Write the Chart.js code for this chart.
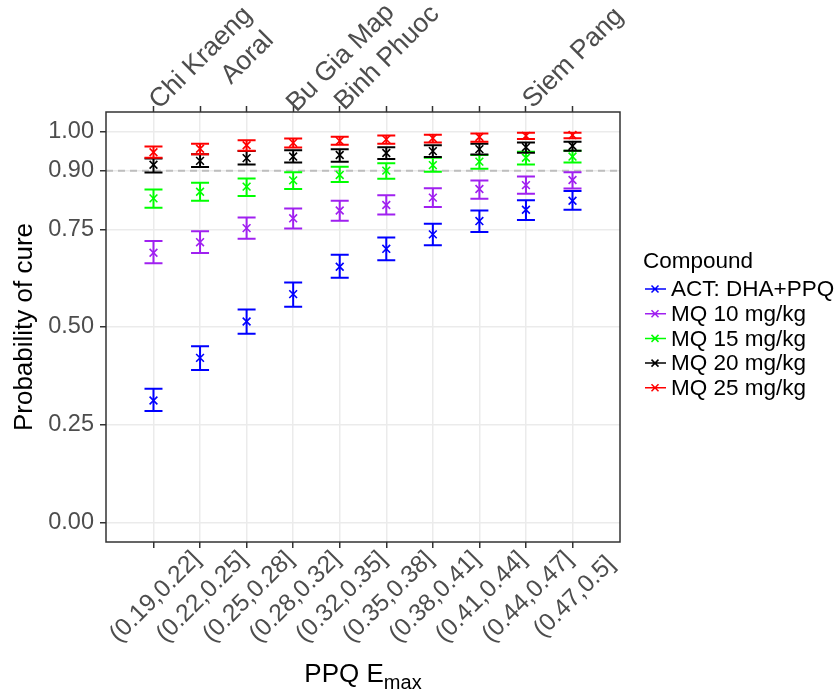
<!DOCTYPE html>
<html>
<head>
<meta charset="utf-8">
<script src="https://cdn.jsdelivr.net/npm/chart.js@4.4.0/dist/chart.umd.min.js"></script>
<style>
  html, body { margin: 0; padding: 0; background: #fff; }
</style>
</head>
<body>
<canvas id="myChart" width="840" height="696"></canvas>
<script>
const bins = ['(0.19,0.22]', '(0.22,0.25]', '(0.25,0.28]', '(0.28,0.32]', '(0.32,0.35]',
              '(0.35,0.38]', '(0.38,0.41]', '(0.41,0.44]', '(0.44,0.47]', '(0.47,0.5]'];
const sites = ['', 'Chi Kraeng', 'Aoral', '', 'Bu Gia Map', 'Binh Phuoc', '', '', '', 'Siem Pang'];
const yTicks = [0, 0.25, 0.5, 0.75, 0.9, 1];
const compounds = ['ACT: DHA+PPQ', 'MQ 10 mg/kg', 'MQ 15 mg/kg', 'MQ 20 mg/kg', 'MQ 25 mg/kg'];
const colors = ['#0000ff', '#a020f0', '#00ff00', '#000000', '#ff0000'];

const actMean = [0.312, 0.421, 0.514, 0.584, 0.654, 0.700, 0.737, 0.771, 0.800, 0.823];
const actLow  = [0.285, 0.390, 0.483, 0.552, 0.626, 0.671, 0.709, 0.743, 0.774, 0.800];
const actHigh = [0.342, 0.451, 0.545, 0.614, 0.685, 0.729, 0.764, 0.798, 0.824, 0.848];

const mq10Mean = [0.690, 0.717, 0.753, 0.778, 0.798, 0.812, 0.831, 0.853, 0.863, 0.876];
const mq10Low  = [0.663, 0.689, 0.726, 0.752, 0.772, 0.788, 0.807, 0.828, 0.841, 0.854];
const mq10High = [0.720, 0.745, 0.780, 0.803, 0.823, 0.837, 0.855, 0.875, 0.885, 0.896];

const mq15Mean = [0.829, 0.846, 0.859, 0.875, 0.889, 0.900, 0.914, 0.923, 0.933, 0.936];
const mq15Low  = [0.805, 0.823, 0.835, 0.853, 0.871, 0.879, 0.897, 0.905, 0.916, 0.921];
const mq15High = [0.852, 0.869, 0.880, 0.896, 0.910, 0.919, 0.933, 0.940, 0.948, 0.951];

const mq20Mean = [0.915, 0.925, 0.932, 0.936, 0.940, 0.945, 0.950, 0.955, 0.960, 0.963];
const mq20Low  = [0.895, 0.909, 0.916, 0.921, 0.923, 0.930, 0.935, 0.941, 0.946, 0.951];
const mq20High = [0.931, 0.942, 0.950, 0.952, 0.955, 0.960, 0.965, 0.969, 0.972, 0.974];

const mq25Mean = [0.947, 0.956, 0.965, 0.971, 0.976, 0.980, 0.983, 0.986, 0.989, 0.991];
const mq25Low  = [0.933, 0.942, 0.951, 0.959, 0.966, 0.969, 0.972, 0.974, 0.981, 0.983];
const mq25High = [0.962, 0.969, 0.978, 0.982, 0.987, 0.990, 0.992, 0.995, 0.997, 0.997];

const cureLine = 0.9;

const FONT = "'Liberation Sans', Arial, Helvetica, sans-serif";

const series = [
  { mean: actMean, low: actLow, high: actHigh },
  { mean: mq10Mean, low: mq10Low, high: mq10High },
  { mean: mq15Mean, low: mq15Low, high: mq15High },
  { mean: mq20Mean, low: mq20Low, high: mq20High },
  { mean: mq25Mean, low: mq25Low, high: mq25High }
];

const binTicks = s => { s.ticks = bins.map((b, i) => ({ value: i })); };

// error bars + dashed 0.9 reference line, drawn under the points
const errorBars = {
  id: 'errorBars',
  beforeDatasetsDraw(chart) {
    const { ctx, chartArea: a, scales: { x, y } } = chart;
    ctx.save();
    ctx.beginPath();
    ctx.rect(a.left, a.top, a.right - a.left, a.bottom - a.top);
    ctx.clip();
    const yy = y.getPixelForValue(cureLine);
    ctx.strokeStyle = '#bebebe';
    ctx.lineWidth = 2;
    ctx.setLineDash([7, 5]);
    ctx.beginPath();
    ctx.moveTo(a.left, yy);
    ctx.lineTo(a.right, yy);
    ctx.stroke();
    ctx.setLineDash([]);
    chart.data.datasets.forEach(ds => {
      ctx.strokeStyle = ds.borderColor;
      ctx.lineWidth = 2;
      ds.low.forEach((lo, i) => {
        const px = x.getPixelForValue(i);
        const p1 = y.getPixelForValue(lo);
        const p2 = y.getPixelForValue(ds.high[i]);
        ctx.beginPath();
        ctx.moveTo(px, p1); ctx.lineTo(px, p2);
        ctx.moveTo(px - 9, p1); ctx.lineTo(px + 9, p1);
        ctx.moveTo(px - 9, p2); ctx.lineTo(px + 9, p2);
        ctx.stroke();
      });
    });
    ctx.restore();
  }
};

// panel box, rotated axis labels, x title and legend
const decorations = {
  id: 'decorations',
  afterDraw(chart) {
    const { ctx, chartArea: a, scales: { x } } = chart;
    ctx.save();
    ctx.strokeStyle = '#333333';
    ctx.lineWidth = 1.5;
    ctx.strokeRect(a.left, a.top, a.right - a.left, a.bottom - a.top);

    ctx.fillStyle = '#4d4d4d';
    ctx.textAlign = 'center';
    ctx.textBaseline = 'middle';
    ctx.font = '24.5px ' + FONT;
    bins.forEach((b, i) => {
      ctx.save();
      ctx.translate(x.getPixelForValue(i) + 2, 597);
      ctx.rotate(-Math.PI / 4);
      ctx.fillText(b, 0, 0);
      ctx.restore();
    });
    ctx.font = '26.5px ' + FONT;
    sites.forEach((s, i) => {
      if (!s) return;
      ctx.save();
      ctx.translate(x.getPixelForValue(i) + 1, 58);
      ctx.rotate(-Math.PI / 4);
      ctx.fillText(s, 0, 0);
      ctx.restore();
    });

    // x title: PPQ E_max
    ctx.fillStyle = '#000000';
    ctx.textAlign = 'left';
    ctx.textBaseline = 'alphabetic';
    ctx.font = '26px ' + FONT;
    const main = 'PPQ E';
    const w1 = ctx.measureText(main).width;
    ctx.font = '20px ' + FONT;
    const w2 = ctx.measureText('max').width;
    const x0 = (a.left + a.right) / 2 - (w1 + w2) / 2;
    ctx.font = '26px ' + FONT;
    ctx.fillText(main, x0, 682);
    ctx.font = '20px ' + FONT;
    ctx.fillText('max', x0 + w1, 689);

    // legend
    ctx.font = '22.5px ' + FONT;
    ctx.textBaseline = 'middle';
    ctx.fillText('Compound', 643, 262);
    compounds.forEach((c, i) => {
      const ly = 289 + 24.7 * i;
      ctx.strokeStyle = colors[i];
      ctx.lineWidth = 2;
      ctx.beginPath();
      ctx.moveTo(645, ly); ctx.lineTo(666, ly);
      ctx.moveTo(651.5, ly - 3.5); ctx.lineTo(658.5, ly + 3.5);
      ctx.moveTo(651.5, ly + 3.5); ctx.lineTo(658.5, ly - 3.5);
      ctx.lineWidth = 1.5;
      ctx.stroke();
      ctx.fillStyle = '#000000';
      ctx.fillText(c, 671, ly + 1);
    });
    ctx.restore();
  }
};

const ctx = document.getElementById('myChart').getContext('2d');

new Chart(ctx, {
  type: 'scatter',
  data: {
    datasets: series.map((s, k) => ({
      label: compounds[k],
      data: s.mean.map((v, i) => ({ x: i, y: v })),
      low: s.low,
      high: s.high,
      borderColor: colors[k],
      backgroundColor: colors[k],
      pointStyle: 'crossRot',
      pointRadius: 5.5,
      pointBorderWidth: 1.6,
      showLine: false
    }))
  },
  options: {
    responsive: false,
    animation: false,
    devicePixelRatio: 1,
    layout: { padding: { left: 0, top: 0, right: 220, bottom: 0 } },
    plugins: {
      legend: { display: false },
      tooltip: { enabled: false }
    },
    scales: {
      x: {
        type: 'linear',
        position: 'bottom',
        min: -1.02,
        max: 10.02,
        afterBuildTicks: binTicks,
        afterFit: s => { s.height = 154; },
        ticks: { display: false },
        grid: { color: '#ebebeb', lineWidth: 1.5, tickColor: '#333333', tickLength: 6, tickWidth: 1.5 },
        border: { display: false }
      },
      x2: {
        type: 'linear',
        position: 'top',
        min: -1.02,
        max: 10.02,
        afterBuildTicks: binTicks,
        afterFit: s => { s.height = 112; },
        ticks: { display: false },
        grid: { drawOnChartArea: false, tickColor: '#333333', tickLength: 6, tickWidth: 1.5 },
        border: { display: false }
      },
      y: {
        min: -0.05,
        max: 1.05,
        afterBuildTicks: s => { s.ticks = yTicks.map(v => ({ value: v })); },
        afterFit: s => { s.width = 106; },
        ticks: {
          font: { size: 23.5, family: FONT },
          color: '#4d4d4d',
          padding: 6,
          callback: v => v.toFixed(2)
        },
        grid: { color: '#ebebeb', lineWidth: 1.5, tickColor: '#333333', tickLength: 6, tickWidth: 1.5 },
        border: { display: false },
        title: {
          display: true,
          text: 'Probability of cure',
          color: '#000000',
          font: { size: 26, family: FONT },
          padding: { top: 9, bottom: 0 }
        }
      }
    }
  },
  plugins: [errorBars, decorations]
});
</script>
</body>
</html>
